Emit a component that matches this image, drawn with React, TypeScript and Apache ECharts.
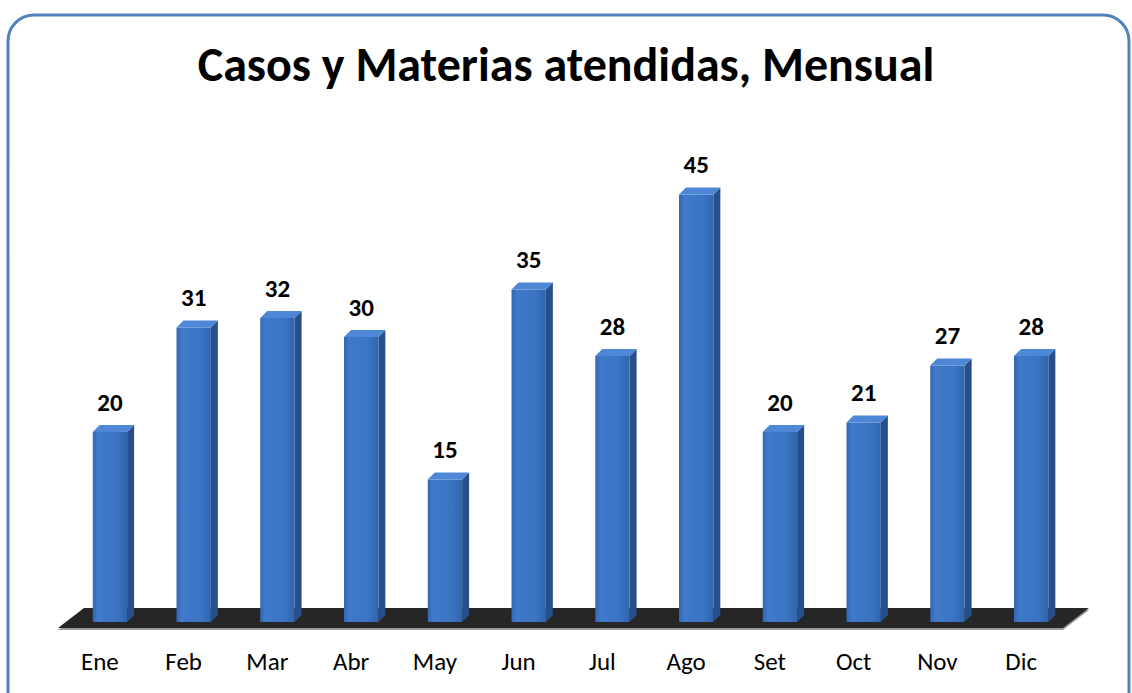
import React, { useEffect, useRef } from "react";
import * as echarts from "echarts";

const months = ["Ene", "Feb", "Mar", "Abr", "May", "Jun", "Jul", "Ago", "Set", "Oct", "Nov", "Dic"];
const casos = [20, 31, 32, 30, 15, 35, 28, 45, 20, 21, 27, 28];
const chartTitle = "Casos y Materias atendidas, Mensual";

const FONT = "Carlito, 'Open Sans', sans-serif";

export default function App() {
  const ref = useRef<HTMLDivElement>(null);
  useEffect(() => {
    document.body.style.margin = "0";
    const chart = echarts.init(ref.current!, null, { renderer: "svg" });

    const renderFloor = (params: any, api: any) => {
      const cs = params.coordSys;
      const base = api.coord([0, 0])[1];
      const fy = base + 6;
      const by = base - 14;
      const dx = 26;
      return {
        type: "group",
        children: [
          {
            type: "polygon",
            shape: { points: [[cs.x, fy + 2], [cs.x + cs.width, fy + 2], [cs.x + cs.width + dx, by + 2], [cs.x + dx, by + 2]] },
            style: { fill: "#9a9a9a" },
          },
          {
            type: "polygon",
            shape: { points: [[cs.x, fy], [cs.x + cs.width, fy], [cs.x + cs.width + dx, by], [cs.x + dx, by]] },
            style: { fill: "#262626" },
          },
        ],
      };
    };

    const renderBar = (params: any, api: any) => {
      const i = api.value(0);
      const v = api.value(1);
      const top = api.coord([i, v]);
      const base = api.coord([i, 0]);
      const band = api.size([1, 0])[0];
      const bw = band * 0.41;
      const cx = top[0] + band * 0.12;
      const x0 = cx - bw / 2;
      const x1 = cx + bw / 2;
      const d = 7;
      const ty = top[1];
      const by = base[1];
      return {
        type: "group",
        children: [
          {
            type: "polygon",
            shape: { points: [[x1, ty], [x1 + d, ty - d], [x1 + d, by - d], [x1, by]] },
            style: { fill: "#274f8a" },
          },
          {
            type: "rect",
            shape: { x: x0, y: ty, width: bw, height: by - ty },
            style: {
              fill: new echarts.graphic.LinearGradient(0, 0, 1, 0, [
                { offset: 0, color: "#3366b0" },
                { offset: 0.15, color: "#3f7acb" },
                { offset: 0.7, color: "#3a74c3" },
                { offset: 1, color: "#3165ad" },
              ]),
            },
          },
          {
            type: "polygon",
            shape: { points: [[x0, ty], [x0 + d, ty - d], [x1 + d, ty - d], [x1, ty]] },
            style: { fill: "#4d87d6" },
          },
          {
            type: "text",
            style: {
              x: cx,
              y: ty - 30,
              text: String(v),
              align: "center",
              verticalAlign: "middle",
              fontFamily: FONT,
              fontWeight: "bold",
              fontSize: 25,
              fill: "#000",
            },
          },
        ],
      };
    };

    chart.setOption({
      animation: false,
      title: {
        text: chartTitle,
        left: "center",
        top: 35,
        textStyle: { fontFamily: FONT, fontWeight: "bold", fontSize: 48, color: "#000" },
      },
      graphic: [
        {
          type: "rect",
          shape: { x: 8, y: 15, width: 1121, height: 720, r: 26 },
          style: { fill: "none", stroke: "#4f81bd", lineWidth: 3 },
          z: 100,
        },
      ],
      grid: { left: 58, right: 69, top: 147, bottom: 71, containLabel: false },
      xAxis: {
        type: "category",
        data: months,
        axisLine: { show: false },
        axisTick: { show: false },
        axisLabel: { fontFamily: FONT, fontSize: 25, color: "#000", margin: 27 },
      },
      yAxis: { type: "value", min: 0, max: 50, show: false, splitLine: { show: false } },
      series: [
        { type: "custom", renderItem: renderFloor, data: [[0, 0]], z: 1, silent: true },
        {
          type: "custom",
          renderItem: renderBar,
          data: casos.map((v, i) => [i, v]),
          encode: { x: 0, y: 1 },
          z: 2,
        },
      ],
    });
    return () => chart.dispose();
  }, []);
  return <div ref={ref} style={{ position: "absolute", left: 0, top: 0, width: 1132, height: 693 }} />;
}
